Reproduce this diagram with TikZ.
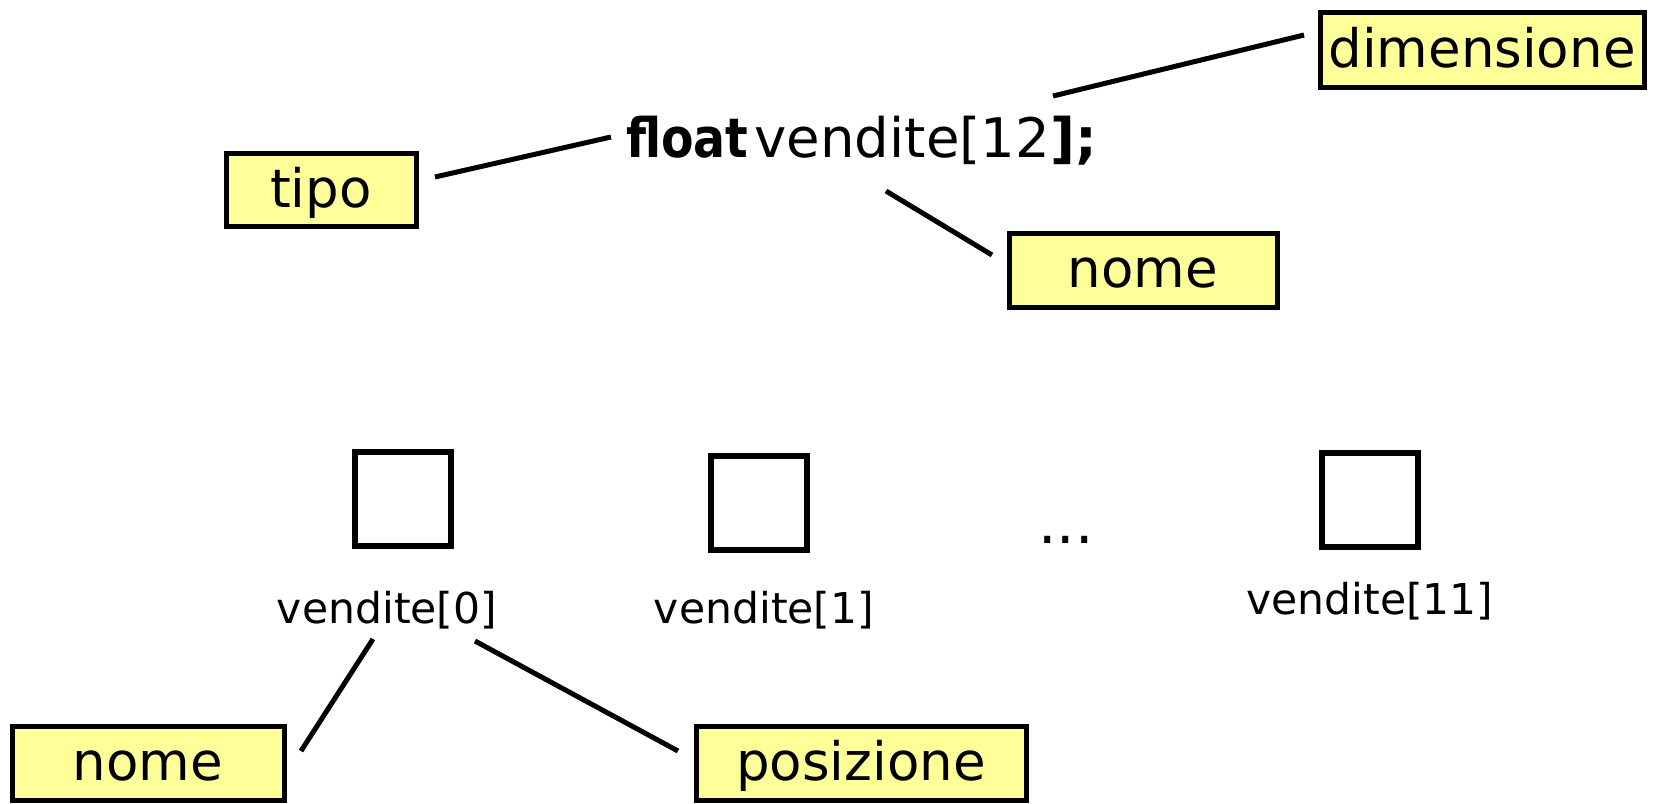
\documentclass[tikz,border=0pt]{standalone}
\usepackage{fontspec}
\usepackage{graphicx}
\setmainfont{DejaVu Sans}
\definecolor{boxyellow}{RGB}{255,255,153}
\begin{document}
\begin{tikzpicture}[x=1pt,y=-1pt,
  lbl/.style={draw=black,line width=5pt,fill=boxyellow,inner sep=0pt,
    font=\fontsize{53}{62}\selectfont,text height=44pt,text depth=9pt},
  cell/.style={draw=black,line width=6pt,inner sep=0pt,minimum width=96pt,minimum height=94pt},
  idx/.style={font=\fontsize{42.5}{50}\selectfont,inner sep=0pt},
  conn/.style={line width=5pt}]
\useasboundingbox (0,0) rectangle (1654,803);
% top
\node[inner sep=0pt,font=\fontsize{54.5}{62}\selectfont,anchor=base west] (decl) at (626,157)
  {\scalebox{0.87}[1]{\textbf{float}}\hspace{6pt}vendite[12\textbf{];}};
\node[lbl,minimum width=190pt,minimum height=73pt] (tipo) at (321,190) {tipo};
\node[lbl,minimum width=324pt,minimum height=75pt] (dim) at (1482,50) {dimensione};
\node[lbl,minimum width=268pt,minimum height=74pt] (nome1) at (1143,270) {nome};
\coordinate (t1) at (435,177); \coordinate (t2) at (611,137);
\coordinate (d1) at (1053,96); \coordinate (d2) at (1304,35);
\coordinate (n1) at (886,191); \coordinate (n2) at (992,255);
\draw[conn] (t1) -- (t2);
\draw[conn] (d1) -- (d2);
\draw[conn] (n1) -- (n2);
% cells
\node[cell] (c0) at (403,499) {};
\node[cell] (c1) at (759,503) {};
\node[cell] (c11) at (1370,500) {};
\node[inner sep=0pt,font=\fontsize{58}{60}\selectfont] (dots) at (1066,540) {...};
\node[idx] (v0) at (387,610) {vendite[0]};
\node[idx] (v1) at (764,610) {vendite[1]};
\node[idx] (v11) at (1370,601) {vendite[11]};
% bottom
\node[lbl,minimum width=272pt,minimum height=74pt] (nome2) at (148,763) {nome};
\node[lbl,minimum width=330pt,minimum height=74pt] (pos) at (861,763) {posizione};
\coordinate (a1) at (373,639); \coordinate (a2) at (301,751);
\coordinate (b1) at (475,641); \coordinate (b2) at (678,751);
\draw[conn] (a1) -- (a2);
\draw[conn] (b1) -- (b2);
\end{tikzpicture}
\end{document}
